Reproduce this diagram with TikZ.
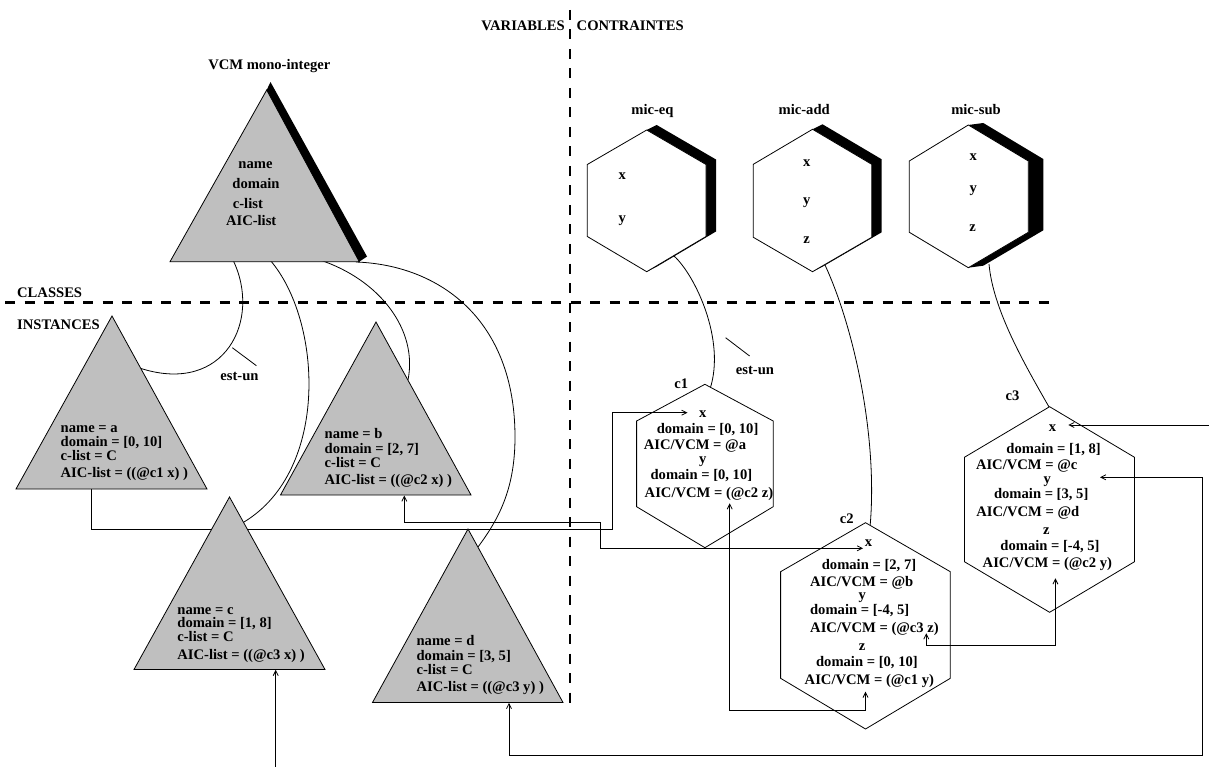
\documentclass[tikz,border=0pt]{standalone}
\usepackage{fontspec}
\setmainfont{Liberation Serif}
\usetikzlibrary{arrows.meta}
\begin{document}
\begin{tikzpicture}[x=1pt,y=-1pt,
  txt/.style={font=\bfseries\fontsize{14.6}{16}\selectfont, inner sep=0pt, anchor=base},
  txtl/.style={txt, anchor=base west},
  thinln/.style={line width=0.8pt},
  triang/.style={fill=gray!50, draw=black, line width=0.8pt, line join=miter},
  hexa/.style={fill=white, draw=black, line width=0.8pt},
  shadowfill/.style={fill=black},
  divider/.style={line width=2.8pt, dash pattern=on 10pt off 9.5pt},
  link/.style={thinln, -{Straight Barb[length=5pt,width=5pt]}},
  biln/.style={thinln, {Straight Barb[length=5pt,width=5pt]}-{Straight Barb[length=5pt,width=5pt]}}
]
\useasboundingbox (0,0) rectangle (1209,767);

% ---------- dividers
\coordinate (dvT) at (570,10); \coordinate (dvB) at (570,705);
\coordinate (dhL) at (5,302.7); \coordinate (dhR) at (1057,302.7);
\draw[divider] (dvT) -- (dvB);
\draw[divider] (dhL) -- (dhR);

% ---------- est-un curves (classes -> instances)
\coordinate (vb1) at (233,260); \coordinate (ae) at (141,368.5);
\draw[thinln] (vb1) .. controls (262,320) and (225,395) .. (ae);
\coordinate (vb2) at (270,260); \coordinate (ce) at (244,522);
\draw[thinln] (vb2) .. controls (322,320) and (330,470) .. (ce);
\coordinate (vb3) at (320,260); \coordinate (be) at (408,380);
\draw[thinln] (vb3) .. controls (380,280) and (418,330) .. (be);
\coordinate (vb4) at (356,262); \coordinate (vm4) at (515,437); \coordinate (de) at (478,547);
\draw[thinln] (vb4) .. controls (440,265) and (515,320) .. (vm4) .. controls (515,490) and (498,520) .. (de);

\coordinate (m1) at (674,256); \coordinate (c1e) at (710,389);
\draw[thinln] (m1) .. controls (695,275) and (726,340) .. (c1e);
\coordinate (m2) at (825,265); \coordinate (c2e) at (870,527);
\draw[thinln] (m2) .. controls (855,330) and (878,440) .. (c2e);
\coordinate (m3) at (989,264); \coordinate (c3e) at (1049.6,408);
\draw[thinln] (m3) .. controls (993,310) and (1025,365) .. (c3e);

% est-un ticks
\coordinate (k1a) at (232.3,347.7); \coordinate (k1b) at (256.4,365.7);
\draw[thinln] (k1a) -- (k1b);
\coordinate (k2a) at (725.6,337.7); \coordinate (k2b) at (749.6,356);
\draw[thinln] (k2a) -- (k2b);

% ---------- class hexagons (with shadow)
\fill[shadowfill] (646.7,130) -- (656.7,125) -- (716,159.5) -- (716,231.5) -- (656.7,266.7) -- (646.7,271.7) -- (706,236.5) -- (706,164.5) -- cycle;
\draw[hexa] (646.7,130) -- (706,164.5) -- (706,236.5) -- (646.7,271.7) -- (587.3,236.5) -- (587.3,164.5) -- cycle;

\fill[shadowfill] (812.5,129.3) -- (822.5,124.3) -- (881.7,159.3) -- (881.7,232.3) -- (822.5,266.7) -- (812.5,271.7) -- (871.7,237.3) -- (871.7,164.3) -- cycle;
\draw[hexa] (812.5,129.3) -- (871.7,164.3) -- (871.7,237.3) -- (812.5,271.7) -- (753.3,237.3) -- (753.3,164.3) -- cycle;

\fill[shadowfill] (968.3,125) -- (983.3,123) -- (1043.3,159) -- (1043.3,230.3) -- (983.3,265.7) -- (968.3,267.7) -- (1028.3,232.3) -- (1028.3,161) -- cycle;
\draw[hexa] (968.3,125) -- (1028.3,161) -- (1028.3,232.3) -- (968.3,267.7) -- (909.3,232.3) -- (909.3,161) -- cycle;

% ---------- constraint instance hexagons
\draw[hexa] (704.9,384.3) -- (773.2,421) -- (773.2,506.7) -- (704.9,547.7) -- (636.6,506.7) -- (636.6,421) -- cycle;
\draw[hexa] (865.5,522.7) -- (950.3,571.7) -- (950.3,678.3) -- (865.5,729) -- (780.6,678.3) -- (780.6,571.7) -- cycle;
\draw[hexa] (1049.6,406.7) -- (1134.5,457.3) -- (1134.5,561.7) -- (1049.6,612.3) -- (964.4,561.7) -- (964.4,457.3) -- cycle;

% ---------- connectors
\coordinate (aOut) at (91,489); \coordinate (c1x) at (687.5,412.7);
\draw[link] (aOut) |- (612.7,529) |- (c1x);
\coordinate (bIn) at (404.3,495.5); \coordinate (c2x) at (863,548.3);
\draw[biln] (bIn) |- (600.7,522.3) |- (c2x);
\coordinate (c1y) at (729.7,503.3); \coordinate (c2z) at (865.5,691.7);
\draw[biln] (c1y) -- (729.7,710) -| (c2z);
\coordinate (c2y) at (926.3,633.3); \coordinate (c3z) at (1055.4,578.3);
\draw[biln] (c2y) -- (926.3,645) -| (c3z);
\coordinate (dIn) at (509,702.8); \coordinate (c3y) at (1100,477.3);
\draw[biln] (dIn) |- (1202.5,755.5) |- (c3y);
\coordinate (fR) at (1209,425); \coordinate (c3x) at (1068.3,425);
\draw[link] (fR) -- (c3x);
\coordinate (gB) at (275.7,767); \coordinate (cIn) at (275.7,669.8);
\draw[link] (gB) -- (cIn);

% ---------- triangles
\draw[triang] (266.7,90) -- (170,261.7) -- (359.3,261.7) -- cycle;
\fill[shadowfill] (266.7,90) -- (270.5,82) -- (367,256.5) -- (359.3,261.7) -- cycle;
\draw[triang] (112,316) -- (16,489) -- (207,489) -- cycle;
\draw[triang] (376,322) -- (280.5,495) -- (471,495) -- cycle;
\draw[triang] (229.5,497) -- (134,669.5) -- (325,669.5) -- cycle;
\draw[triang] (468,529) -- (372.5,702.5) -- (563,702.5) -- cycle;

% ---------- headings
\node[txt, anchor=base east] (tVar) at (565,31) {VARIABLES};
\node[txtl] (tCon) at (576.5,31) {CONTRAINTES};
\node[txtl] (tCla) at (17,297) {CLASSES};
\node[txtl] (tIns) at (17,329) {INSTANCES};
\node[txt] (tVCM) at (269.3,70) {VCM mono-integer};
\node[txt] (tEq) at (652.5,115) {mic-eq};
\node[txt] (tAdd) at (804.2,115) {mic-add};
\node[txt] (tSub) at (976,115) {mic-sub};
\node[txt] (tEst1) at (239.5,380) {est-un};
\node[txt] (tEst2) at (755,374) {est-un};
\node[txt] (tc1) at (681.3,388) {c1};
\node[txt] (tc2) at (846.8,523) {c2};
\node[txt] (tc3) at (1012.4,400) {c3};

% VCM class
\node[txt] (vName) at (255.5,168.3) {name};
\node[txt] (vDom) at (256,189) {domain};
\node[txtl] (vCl) at (232.7,208.3) {c-list};
\node[txt] (vAIC) at (251.2,225.7) {AIC-list};

% instance a
\node[txtl] (a1) at (60.5,432.7) {name = a};
\node[txtl] (a2) at (60.5,446) {domain = [0, 10]};
\node[txtl] (a3) at (60.5,460.7) {c-list = C};
\node[txtl] (a4) at (60.5,477.3) {AIC-list = ((@c1 x) )};
% instance b
\node[txtl] (b1) at (324.5,438.3) {name = b};
\node[txtl] (b2) at (324.5,453.3) {domain = [2, 7]};
\node[txtl] (b3) at (324.5,467.3) {c-list = C};
\node[txtl] (b4) at (324.5,484.3) {AIC-list = ((@c2 x) )};
% instance c
\node[txtl] (cc1) at (177.2,614) {name = c};
\node[txtl] (cc2) at (177.2,627.3) {domain = [1, 8]};
\node[txtl] (cc3) at (177.2,641.7) {c-list = C};
\node[txtl] (cc4) at (177.2,659) {AIC-list = ((@c3 x) )};
% instance d
\node[txtl] (d1) at (416.4,645) {name = d};
\node[txtl] (d2) at (416.4,660) {domain = [3, 5]};
\node[txtl] (d3) at (416.4,674.3) {c-list = C};
\node[txtl] (d4) at (416.4,691) {AIC-list = ((@c3 y) )};

% class hexagon slots
\node[txt] (eqx) at (622.3,179.4) {x};
\node[txt] (eqy) at (622.3,223) {y};
\node[txt] (adx) at (806.7,166.7) {x};
\node[txt] (ady) at (806.7,204.3) {y};
\node[txt] (adz) at (806.7,243.4) {z};
\node[txt] (sbx) at (973.3,160.1) {x};
\node[txt] (sby) at (973.3,193) {y};
\node[txt] (sbz) at (972.7,231.7) {z};

% c1
\node[txt] (p1) at (702.8,417.7) {x};
\node[txt] (p2) at (707.6,433.3) {domain = [0, 10]};
\node[txt] (p3) at (695,449.5) {AIC/VCM = @a};
\node[txt] (p4) at (702.8,463.5) {y};
\node[txt] (p5) at (701.4,479.3) {domain = [0, 10]};
\node[txt] (p6) at (709,497.7) {AIC/VCM = (@c2 z)};
% c2
\node[txt] (q1) at (868.4,546.7) {x};
\node[txt] (q2) at (869,569) {domain = [2, 7]};
\node[txt] (q3) at (861.7,586.3) {AIC/VCM = @b};
\node[txt] (q4) at (862.2,599) {y};
\node[txt] (q5) at (859.7,614) {domain = [-4, 5]};
\node[txt] (q6) at (874.5,632.7) {AIC/VCM = (@c3 z)};
\node[txt] (q7) at (862.2,650.7) {z};
\node[txt] (q8) at (866.9,666) {domain = [0, 10]};
\node[txt] (q9) at (869.4,684.3) {AIC/VCM = (@c1 y)};
% c3
\node[txt] (r1) at (1052.5,431.1) {x};
\node[txt] (r2) at (1053.6,453.3) {domain = [1, 8]};
\node[txt] (r3) at (1026.7,469.5) {AIC/VCM = @c};
\node[txt] (r4) at (1047.2,483.5) {y};
\node[txt] (r5) at (1041.2,498.3) {domain = [3, 5]};
\node[txt] (r6) at (1027.8,516.7) {AIC/VCM = @d};
\node[txt] (r7) at (1046.3,534.4) {z};
\node[txt] (r8) at (1050,550) {domain = [-4, 5]};
\node[txt] (r9) at (1047.4,567.7) {AIC/VCM = (@c2 y)};
\end{tikzpicture}
\end{document}
